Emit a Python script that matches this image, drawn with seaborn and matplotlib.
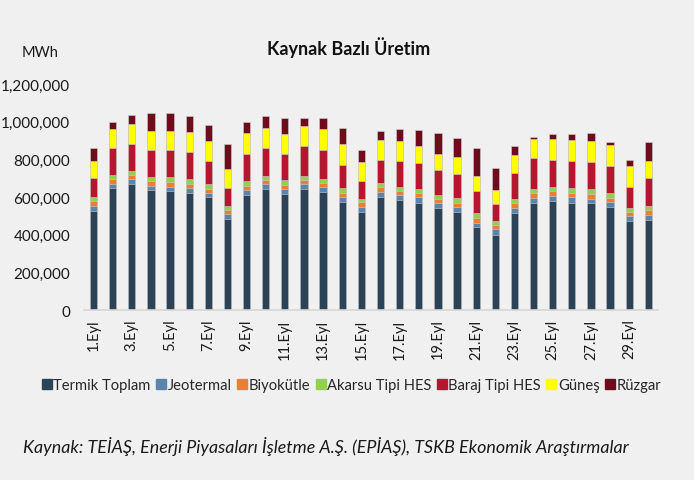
import pandas as pd
import seaborn as sns
import matplotlib.pyplot as plt
from matplotlib.ticker import FuncFormatter
from matplotlib.lines import Line2D

# Günlük üretim (bin MWh), Eylül
gunler = [f"{i}.Eyl" for i in range(1, 31)]

termik = [526, 649, 669, 637, 632, 621, 600, 483, 610, 644,
          616, 644, 626, 573, 520, 600, 584, 568, 542, 520,
          441, 399, 515, 568, 579, 568, 568, 547, 473, 478]
jeotermal = [26, 23, 26, 21, 23, 26, 23, 26, 28, 25,
             26, 26, 26, 28, 30, 26, 26, 32, 28, 30,
             23, 30, 26, 26, 26, 32, 23, 26, 28, 28]
biyokutle = [26, 25, 21, 26, 25, 25, 21, 21, 19, 21,
             23, 21, 21, 21, 23, 26, 23, 21, 21, 19,
             25, 25, 26, 26, 26, 21, 25, 25, 21, 25]
akarsu = [21, 23, 25, 25, 25, 25, 28, 25, 28, 25,
          25, 21, 23, 25, 19, 21, 23, 23, 21, 25,
          25, 21, 23, 26, 25, 26, 25, 23, 21, 21]
baraj = [101, 141, 141, 141, 146, 141, 122, 92, 143, 145,
         139, 157, 152, 122, 95, 123, 136, 138, 132, 129,
         118, 88, 138, 161, 139, 145, 145, 143, 111, 152]
gunes = [93, 99, 106, 101, 101, 109, 104, 102, 111, 108,
         106, 109, 115, 113, 99, 109, 106, 88, 85, 90,
         81, 74, 97, 101, 115, 109, 113, 115, 109, 86]
ruzgar = [69, 37, 46, 95, 95, 86, 86, 131, 60, 62,
          85, 41, 56, 85, 64, 46, 62, 88, 111, 102,
          146, 120, 49, 14, 23, 35, 39, 16, 34, 101]

kaynaklar = ["Termik Toplam", "Jeotermal", "Biyokütle", "Akarsu Tipi HES",
             "Baraj Tipi HES", "Güneş", "Rüzgar"]
renkler = ["#2c4256", "#5b84ad", "#ed7d31", "#92d050",
           "#b81530", "#ffff00", "#6e0c1c"]

df = pd.DataFrame({
    "Termik Toplam": termik, "Jeotermal": jeotermal, "Biyokütle": biyokutle,
    "Akarsu Tipi HES": akarsu, "Baraj Tipi HES": baraj, "Güneş": gunes,
    "Rüzgar": ruzgar}, index=gunler) * 1000
kumulatif = df[kaynaklar].cumsum(axis=1)

bg = "#f0f0f0"
sns.set_theme(style="white")
plt.rcParams["font.family"] = ["Lato", "DejaVu Sans"]

fig = plt.figure(figsize=(6.94, 4.81), dpi=100, facecolor=bg)
ax = fig.add_axes([0.121, 0.353, 0.827, 0.470])
ax.set_facecolor(bg)

# üstten alta doğru kümülatif çubuklar
for kaynak, renk in zip(reversed(kaynaklar), reversed(renkler)):
    sns.barplot(x=gunler, y=kumulatif[kaynak].values, color=renk,
                width=0.38, edgecolor="#d0d0d0", linewidth=0.4,
                saturation=1, ax=ax)

ax.set_ylim(0, 1200000)
ax.set_xlim(-0.5, 29.5)
ax.set_yticks(range(0, 1200001, 200000))
ax.yaxis.set_major_formatter(FuncFormatter(lambda v, p: f"{v:,.0f}"))
ax.set_xticks(range(0, 30, 2))
ax.set_xticklabels(gunler[::2], rotation=90)
ax.tick_params(axis="y", length=0, pad=10, labelsize=11, colors="#1a1a1a")
ax.tick_params(axis="x", length=0, pad=6, labelsize=10.5, colors="#1a1a1a")
ax.set_xlabel("")
ax.set_ylabel("")
for s in ["top", "right", "left"]:
    ax.spines[s].set_visible(False)
ax.spines["bottom"].set_color("#d6d6d6")
ax.spines["bottom"].set_linewidth(1.2)

fig.text(0.503, 0.902, "Kaynak Bazlı Üretim", ha="center", va="center",
         fontsize=13, fontweight="bold", color="#111111")
fig.text(0.058, 0.890, "MWh", ha="center", va="center", fontsize=10.5,
         color="#1a1a1a")

handles = [Line2D([0], [0], marker="s", color="none", markerfacecolor=c,
                  markeredgecolor=c, markersize=6.5) for c in renkler]
fig.legend(handles, kaynaklar, loc="center", bbox_to_anchor=(0.507, 0.197),
           ncol=7, frameon=False, fontsize=10.6, handlelength=0.6,
           handletextpad=0.15, columnspacing=0.4, borderaxespad=0)

fig.text(0.033, 0.072,
         "Kaynak: TEİAŞ, Enerji Piyasaları İşletme A.Ş. (EPİAŞ), TSKB Ekonomik Araştırmalar",
         ha="left", va="center", fontsize=12.9, style="italic", color="#1a1a1a")

fig.savefig("out.png", dpi=100, facecolor=bg)
